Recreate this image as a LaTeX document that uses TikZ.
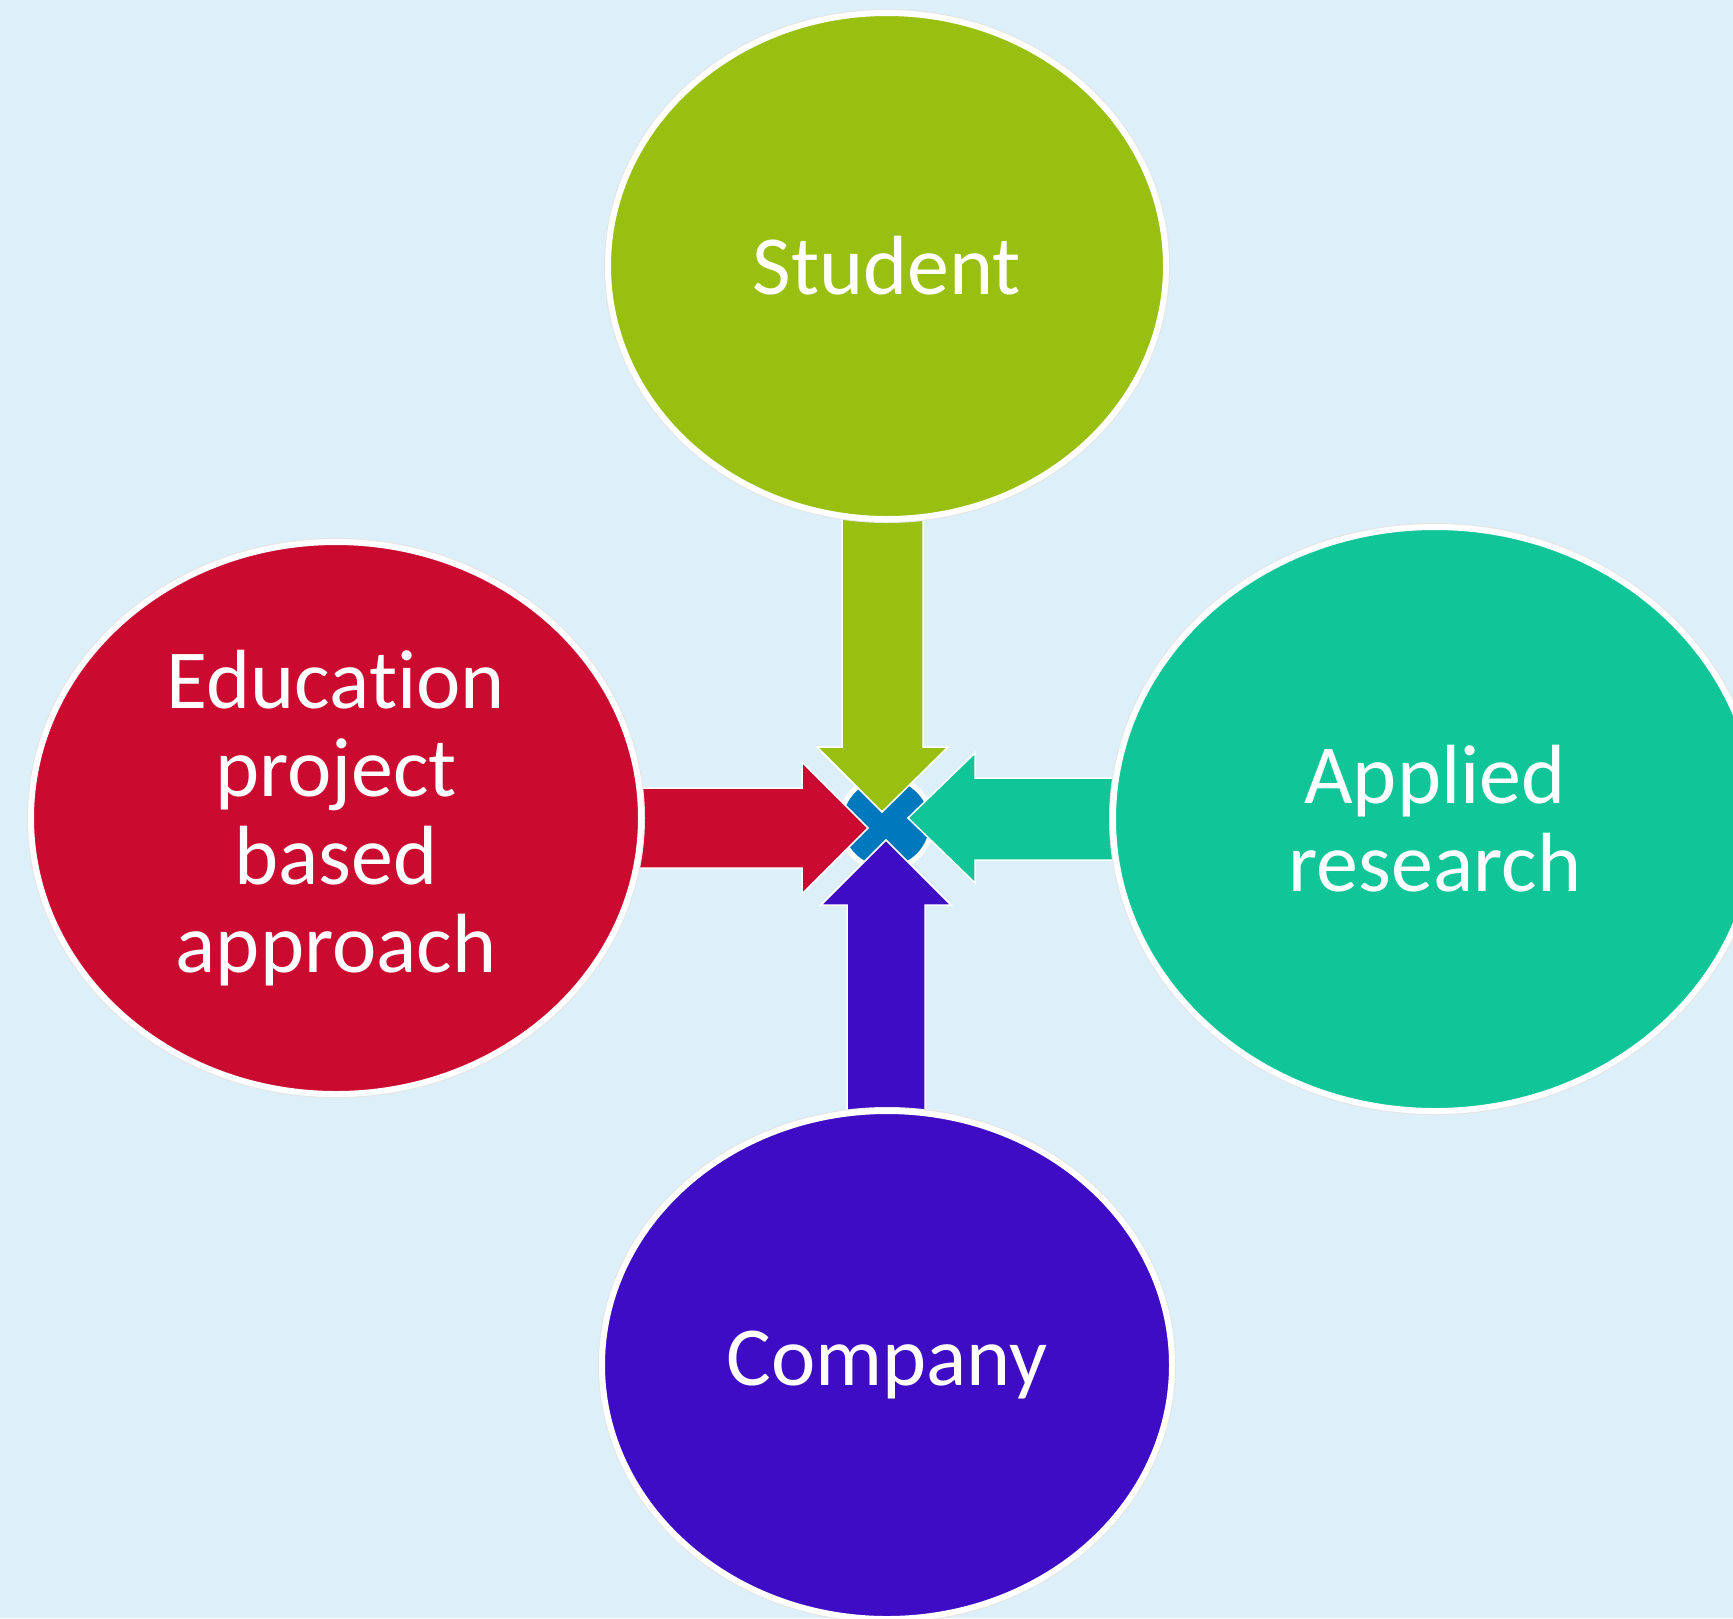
\documentclass[tikz,border=0pt]{standalone}
\usepackage{fontspec}
\setmainfont{Carlito}[Ligatures={NoCommon,NoRare}]
\usetikzlibrary{shapes.geometric,calc}
\definecolor{bgblue}{HTML}{DDEFF8}
\definecolor{cgreen}{HTML}{99C010}
\definecolor{cred}{HTML}{CB0A30}
\definecolor{cteal}{HTML}{10C598}
\definecolor{cpurple}{HTML}{3E0CC4}
\definecolor{cblue}{HTML}{0078BE}
\pgfdeclarelayer{back}
\pgfdeclarelayer{arrows}
\pgfsetlayers{back,arrows,main}
\begin{document}
\begin{tikzpicture}[x=1pt,y=-1pt,
  bubble/.style={ellipse, draw=white, line width=6pt, inner sep=0pt, text=white,
    align=center, font=\fontsize{84}{88}\selectfont,
    preaction={draw=black!10, line width=8pt}},
  arr/.style={draw=white, line width=1.5pt, line join=miter}]
\begin{pgfonlayer}{back}
\fill[bgblue] (0,0) rectangle (1733,1618);
\end{pgfonlayer}
\useasboundingbox (0,0) rectangle (1733,1618);

\node[bubble, fill=cgreen, minimum width=558pt, minimum height=506pt] (stu) at (887,266) {Student};
\node[bubble, fill=cred, minimum width=610pt, minimum height=552pt] (edu) at (336,818) {Education\\project\\based\\approach};
\node[bubble, fill=cteal, minimum width=644pt, minimum height=584pt] (app) at (1435,819) {Applied\\research};
\node[bubble, fill=cpurple, minimum width=570pt, minimum height=508pt] (com) at (887,1365) {Company};

\begin{pgfonlayer}{arrows}
\coordinate (c) at (886,823);
\draw[fill=cblue, draw=white, line width=5pt] (c) circle[radius=46];
% green arrow (down from Student)
\draw[arr, fill=cgreen] (882,812) -- (817,747) -- (842,747)
  -- ($(stu.south)+(-45,-15)$) -- ($(stu.south)+(36,-15)$)
  -- (923,747) -- (948,747) -- cycle;
% red arrow (right from Education)
\draw[arr, fill=cred] (868,828) -- (802,762) -- (802,788)
  -- ($(edu.east)+(-15,-30)$) -- ($(edu.east)+(-15,50)$)
  -- (802,868) -- (802,894) -- cycle;
% teal arrow (left from Applied research)
\draw[arr, fill=cteal] (908,818) -- (975,753) -- (975,778)
  -- ($(app.west)+(15,-41)$) -- ($(app.west)+(15,41)$)
  -- (975,860) -- (975,883) -- cycle;
% purple arrow (up from Company)
\draw[arr, fill=cpurple] (886,840) -- (821,905) -- (847,905)
  -- ($(com.north)+(-40,15)$) -- ($(com.north)+(38,15)$)
  -- (925,905) -- (951,905) -- cycle;
\end{pgfonlayer}
\end{tikzpicture}
\end{document}
